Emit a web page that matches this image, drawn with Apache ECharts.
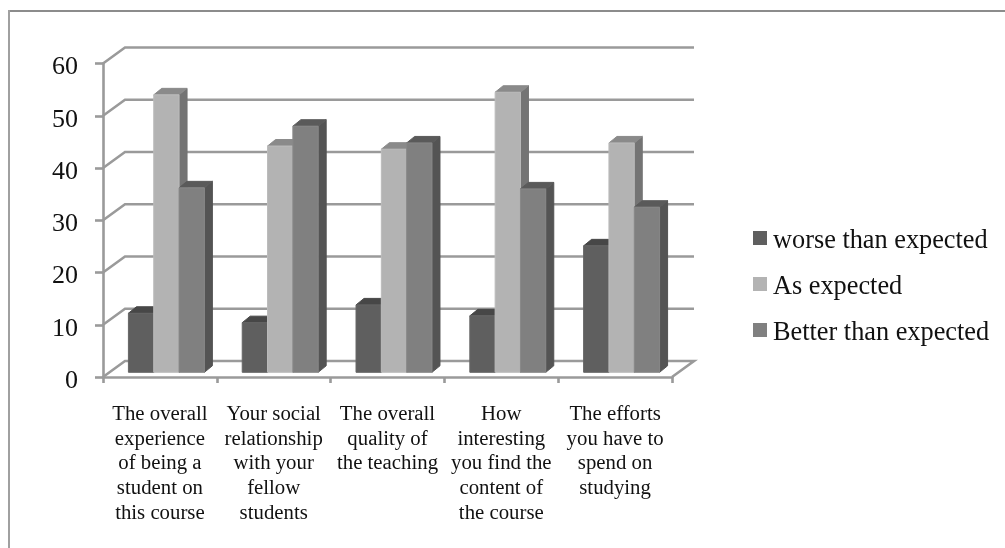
<!DOCTYPE html>
<html>
<head>
<meta charset="utf-8">
<style>
html,body{margin:0;padding:0;background:#fff;overflow:hidden}
#edgeTop{position:absolute;left:8px;top:10px;width:997px;height:2px;background:#8c8c8c}
#edgeLeft{position:absolute;left:8px;top:10px;width:2px;height:538px;background:#a0a0a0}
#chart{position:absolute;left:0;top:0;width:1005px;height:548px}
</style>
<script src="https://cdn.jsdelivr.net/npm/echarts@6/dist/echarts.min.js"></script>
</head>
<body>
<div id="edgeTop"></div>
<div id="edgeLeft"></div>
<div id="chart"></div>
<script>
const categories = [
  'The overall\nexperience\nof being a\nstudent on\nthis course',
  'Your social\nrelationship\nwith your\nfellow\nstudents',
  'The overall\nquality of\nthe teaching',
  'How\ninteresting\nyou find the\ncontent of\nthe course',
  'The efforts\nyou have to\nspend on\nstudying'
];
const worse = [11.3, 9.5, 12.9, 10.8, 24.2];
const asExpected = [53.1, 43.3, 42.7, 53.6, 43.9];
const better = [35.3, 47.1, 43.9, 35.1, 31.6];
const yTicks = [0, 10, 20, 30, 40, 50, 60];

// Depth of the back wall and of the bars, in pixels
const WALL_DX = 22, WALL_DY = -16;
const BAR_DX = 8, BAR_DY = -6.5;
const BAR_SHIFT_X = 6.5, BAR_SHIFT_Y = -4.7;
const BAR_BAND = 0.2225;
const LINE = '#9a9a9a';
const FONT = '"Liberation Serif","Times New Roman",serif';

function wallLine(params, api) {
  const cs = params.coordSys;
  const y = api.coord([0, api.value(0)])[1];
  const points = [
    [cs.x, y],
    [cs.x + WALL_DX, y + WALL_DY],
    [cs.x + cs.width + WALL_DX, y + WALL_DY]
  ];
  if (api.value(0) === 0) {
    points.push([cs.x + cs.width, y]);
  }
  return {
    type: 'polyline',
    shape: { points },
    style: { stroke: LINE, lineWidth: 2.6, fill: null }
  };
}

function bar3d(slot, shades) {
  return function (params, api) {
    const band = api.size([1, 0])[0];
    const base = api.coord([api.value(0), 0]);
    const top = api.coord([api.value(0), api.value(1)]);
    const w = band * BAR_BAND;
    const x0 = base[0] + BAR_SHIFT_X + (slot - 1.5) * w;
    const x1 = x0 + w;
    const yb = base[1] + BAR_SHIFT_Y;
    const yt = top[1] + BAR_SHIFT_Y;
    const poly = (points, fill, stroke) => ({
      type: 'polygon',
      shape: { points },
      style: { fill, stroke: stroke || fill, lineWidth: 1 }
    });
    return {
      type: 'group',
      children: [
        poly([[x1, yt], [x1 + BAR_DX, yt + BAR_DY], [x1 + BAR_DX, yb + BAR_DY], [x1, yb]], shades.side),
        poly([[x0, yt], [x0 + BAR_DX, yt + BAR_DY], [x1 + BAR_DX, yt + BAR_DY], [x1, yt]], shades.top),
        poly([[x0, yt], [x1, yt], [x1, yb], [x0, yb]], shades.front, shades.edge)
      ]
    };
  };
}

function barSeries(name, values, slot, shades) {
  return {
    name,
    type: 'custom',
    clip: false,
    coordinateSystem: 'cartesian2d',
    itemStyle: { color: shades.front },
    encode: { x: 0, y: 1 },
    data: values.map((v, i) => [i, v]),
    renderItem: bar3d(slot, shades),
    z: 3 + slot
  };
}

const chart = echarts.init(document.getElementById('chart'), null, { renderer: 'canvas' });
chart.setOption({
  animation: false,
  backgroundColor: 'transparent',
  grid: { left: 103, right: 333, top: 63.5, bottom: 171, containLabel: false },
  xAxis: {
    type: 'category',
    data: categories,
    boundaryGap: true,
    axisLine: { lineStyle: { color: LINE, width: 2.6 } },
    axisTick: { show: true, alignWithLabel: false, length: 6, lineStyle: { color: LINE, width: 2.6 } },
    axisLabel: {
      interval: 0, margin: 25, color: '#111', fontFamily: FONT,
      fontSize: 20.8, lineHeight: 24.8, align: 'center'
    }
  },
  yAxis: {
    type: 'value',
    min: 0, max: 60, interval: 10,
    splitLine: { show: false },
    axisLine: { show: true, lineStyle: { color: LINE, width: 2.6 } },
    axisTick: { show: true, length: 8, lineStyle: { color: LINE, width: 2.6 } },
    axisLabel: {
      margin: 25,
      formatter: '{n|{value}}',
      rich: { n: { color: '#111', fontFamily: FONT, fontSize: 26, padding: [8, 0, 0, 0] } }
    }
  },
  legend: {
    orient: 'vertical',
    left: 748, top: 223,
    itemWidth: 14, itemHeight: 14, itemGap: 20,
    icon: 'rect',
    data: ['worse than expected', 'As expected', 'Better than expected'],
    formatter: name => '{t|' + name + '}',
    textStyle: {
      rich: { t: { color: '#111', fontFamily: FONT, fontSize: 26.3, padding: [6, 0, 0, 1] } }
    }
  },
  series: [
    {
      name: 'wall',
      type: 'custom',
      clip: false,
      coordinateSystem: 'cartesian2d',
      encode: { y: 0 },
      data: yTicks.map(v => [v]),
      renderItem: wallLine,
      z: 1
    },
    barSeries('worse than expected', worse, 0, { front: '#5f5f5f', edge: '#666666', top: '#474747', side: '#4c4c4c' }),
    barSeries('As expected', asExpected, 1, { front: '#b3b3b3', edge: '#bcbcbc', top: '#8a8a8a', side: '#747474' }),
    barSeries('Better than expected', better, 2, { front: '#808080', edge: '#888888', top: '#5a5a5a', side: '#545454' })
  ]
});
</script>
</body>
</html>
